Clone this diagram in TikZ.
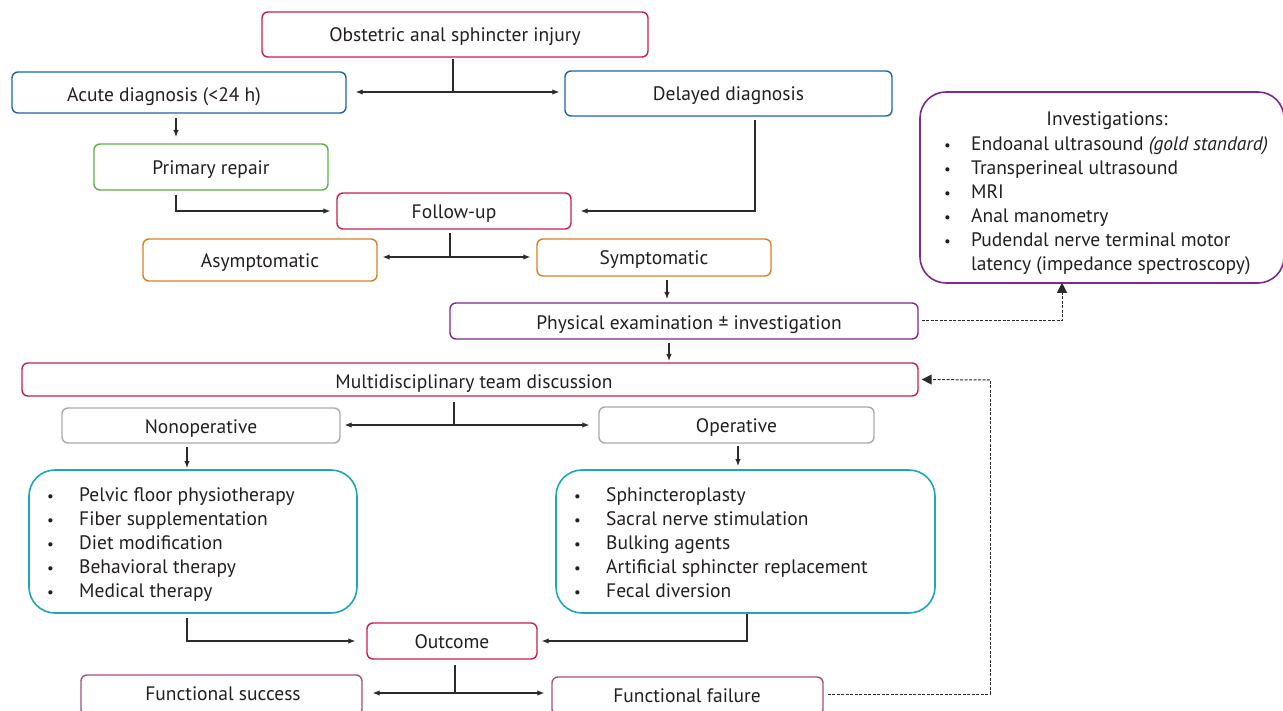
\documentclass[tikz,border=0pt]{standalone}
\usepackage{fontspec}
\setmainfont{PT Sans}
\usetikzlibrary{arrows.meta}
\definecolor{cRed}{HTML}{C8204E}
\definecolor{cBlue}{HTML}{1E64AA}
\definecolor{cGreen}{HTML}{5FAE47}
\definecolor{cOrange}{HTML}{D97F26}
\definecolor{cPurple}{HTML}{7D2A8C}
\definecolor{cGray}{HTML}{ABABAB}
\definecolor{cTeal}{HTML}{1BA8BA}
\definecolor{cMauve}{HTML}{A34F80}
\definecolor{cText}{HTML}{231F20}
\definecolor{cLine}{HTML}{2B2B2B}
\newcommand{\bul}[1]{\makebox[#1][l]{\hspace{4pt}{\fontsize{15}{15}\selectfont\textbullet}}}
\begin{document}
\begin{tikzpicture}[x=1pt,y=-1pt,
  font=\fontsize{19.5}{24}\selectfont, text=cText,
  box/.style={draw=#1, rectangle, rounded corners=6pt, line width=1.4pt, inner sep=0pt, anchor=center, text height=15pt, text depth=0pt},
  bigbox/.style={draw=#1, rectangle, rounded corners=26pt, line width=1.6pt, inner sep=0pt, anchor=center},
  lbl/.style={inner sep=0pt, anchor=center, text height=15pt, text depth=0pt},
  listtxt/.style={inner sep=0pt, anchor=north west, align=left},
  conn/.style={draw=cLine, line width=1.1pt},
  arr/.style={conn, -{Latex[length=7pt,width=5.5pt]}},
  darr/.style={conn, {Latex[length=7pt,width=5.5pt]}-{Latex[length=7pt,width=5.5pt]}},
  dline/.style={draw=cLine, line width=1pt, dash pattern=on 3pt off 1.5pt},
  dlinearr/.style={dline, -{Triangle[length=10pt,width=10pt]}}]
\useasboundingbox (0,0) rectangle (1283,711);
\fill[white] (0,0) rectangle (1283,711);

% boxes
\node[box=cRed, minimum width=386pt, minimum height=45pt] (inj) at (455,34.5) {Obstetric anal sphincter injury};
\node[box=cBlue, minimum width=334pt, minimum height=41pt] (acute) at (179,92.5) {};
\node[lbl] (acutet) at (164,94) {Acute diagnosis (<24 h)};
\node[box=cBlue, minimum width=327pt, minimum height=45pt] (delayed) at (728.5,93.5) {Delayed diagnosis};
\node[box=cGreen, minimum width=234pt, minimum height=46pt] (primary) at (211,167) {Primary repair};
\node[box=cRed, minimum width=234pt, minimum height=36pt] (follow) at (454,211) {Follow-up};
\node[box=cOrange, minimum width=234pt, minimum height=42pt] (asym) at (260,260) {Asymptomatic};
\node[box=cOrange, minimum width=234pt, minimum height=37pt] (sym) at (654,257.5) {Symptomatic};
\node[box=cPurple, minimum width=468pt, minimum height=36pt] (phys) at (684,321) {};
\node[lbl] (physt) at (689,322) {Physical examination ± investigation};
\node[bigbox=cPurple, minimum width=364pt, minimum height=191pt] (inv) at (1102,187.5) {};
\node[lbl] (invt) at (1107,118) {Investigations:};
\node[listtxt] (invl) at (940,136) {%
\bul{31pt}Endoanal ultrasound \textit{(gold standard)}\\
\bul{31pt}Transperineal ultrasound\\
\bul{31pt}MRI\\
\bul{31pt}Anal manometry\\
\bul{31pt}Pudendal nerve terminal motor\\
\makebox[31pt][l]{}latency (impedance spectroscopy)};
\node[box=cRed, minimum width=896pt, minimum height=33pt] (mdt) at (470,379.5) {};
\node[lbl] (mdtt) at (474,381) {Multidisciplinary team discussion};
\node[box=cGray, minimum width=278pt, minimum height=35pt] (nonop) at (201,425.5) {Nonoperative};
\node[box=cGray, minimum width=275pt, minimum height=36pt] (oper) at (736.5,425) {Operative};
\node[bigbox=cTeal, minimum width=328pt, minimum height=143pt] (nonl) at (193,541.5) {};
\node[listtxt] (nonlt) at (43,487) {%
\bul{36pt}Pelvic floor physiotherapy\\
\bul{36pt}Fiber supplementation\\
\bul{36pt}Diet modification\\
\bul{36pt}Behavioral therapy\\
\bul{36pt}Medical therapy};
\node[bigbox=cTeal, minimum width=379pt, minimum height=143pt] (opl) at (745.5,541.5) {};
\node[listtxt] (oplt) at (570,487) {%
\bul{36pt}Sphincteroplasty\\
\bul{36pt}Sacral nerve stimulation\\
\bul{36pt}Bulking agents\\
\bul{36pt}Artificial sphincter replacement\\
\bul{36pt}Fecal diversion};
\node[box=cRed, minimum width=170pt, minimum height=36pt] (outc) at (452,641) {Outcome};
\node[box=cMauve, minimum width=281pt, minimum height=40pt] (succ) at (221.5,695) {};
\node[lbl] (succt) at (223,693) {Functional success};
\node[box=cMauve, minimum width=271pt, minimum height=38pt] (fail) at (687.5,696) {};
\node[lbl] (failt) at (687,695) {Functional failure};

% coordinates
\coordinate (j1) at (453,59);
\coordinate (j1b) at (453,92);
\coordinate (j2) at (176,195);
\coordinate (j3) at (755,120);
\coordinate (j4) at (450,233);
\coordinate (j4b) at (450,257);
\coordinate (j5) at (454,402);
\coordinate (j5b) at (454,425);
\coordinate (j6) at (187,618);
\coordinate (j7) at (747,614);
\coordinate (j8) at (455,665);
\coordinate (j8b) at (455,693);
\coordinate (d1) at (1062,321);
\coordinate (d2) at (990,694);
\coordinate (d3) at (990,380);

% connectors
\draw[conn] (j1) -- (j1b);
\draw[darr] ([xshift=9pt]acute.east |- j1b) -- ([xshift=-5pt]delayed.west |- j1b);
\draw[arr] (176,118) -- (176,137);
\draw[arr] (j2) |- ([xshift=-6pt]follow.west);
\draw[arr] (j3) |- ([xshift=9pt]follow.east);
\draw[conn] (j4) -- (j4b);
\draw[darr] ([xshift=5pt]asym.east |- j4b) -- ([xshift=-6pt]sym.west |- j4b);
\draw[arr] (667,280) -- (667,299);
\draw[arr] (669,343) -- (669,361);
\draw[conn] (j5) -- (j5b);
\draw[darr] ([xshift=4pt]nonop.east |- j5b) -- ([xshift=-9pt]oper.west |- j5b);
\draw[arr] (187,447) -- (187,468);
\draw[arr] (738,446) -- (738,466);
\draw[arr] (j6) |- ([xshift=-11pt]outc.west);
\draw[arr] (j7) |- ([xshift=4pt]outc.east);
\draw[conn] (j8) -- (j8b);
\draw[darr] ([xshift=10pt]succ.east |- j8b) -- ([xshift=-7pt]fail.west |- j8b);
\draw[dlinearr] ([xshift=3pt]phys.east) -| ([yshift=1pt]inv.south -| d1);
\draw[dline] ([xshift=4pt]fail.east |- d2) -- (d2) -- (d3);
\draw[dlinearr] (d3) -- ([xshift=3pt]mdt.east);
\end{tikzpicture}
\end{document}
